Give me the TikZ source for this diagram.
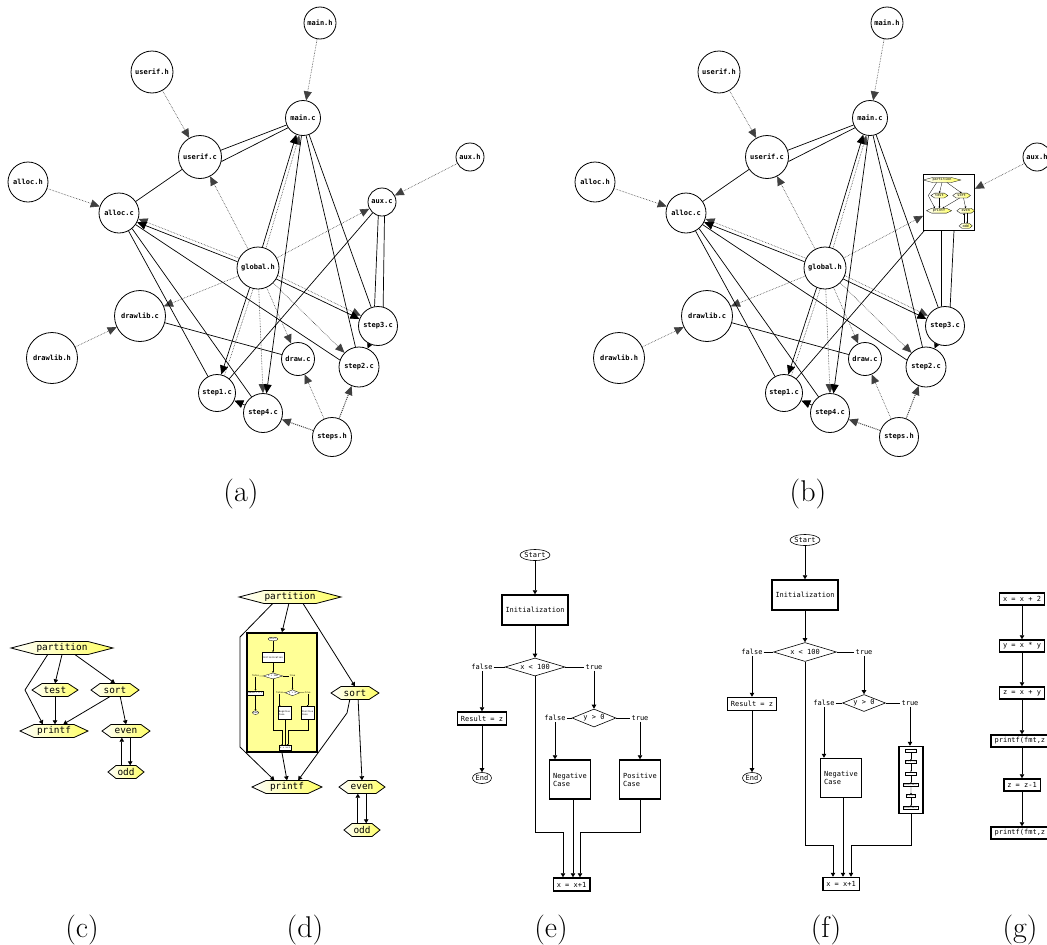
\documentclass[tikz,border=0pt]{standalone}
\usepackage{fontspec}
\newfontfamily\fcmono{DejaVu Sans Mono}
\usetikzlibrary{arrows.meta,shapes.geometric}

\definecolor{hexyellow}{RGB}{255,255,100}
\definecolor{boxyellow}{RGB}{255,255,150}

\tikzset{
  gnode/.style={circle, draw, line width=0.8pt, fill=white, inner sep=0pt,
    font=\fcmono\bfseries\fontsize{7}{8}\selectfont},
  gtip/.style={-{Triangle[length=9pt,width=8pt]}},
  dep/.style={densely dotted, draw=black!75, line width=0.6pt, gtip},
  depline/.style={densely dotted, draw=black!75, line width=0.6pt},
  call/.style={line width=0.7pt},
  callarr/.style={call, gtip},
  hexshape/.style={draw, line width=0.8pt, left color=white, right color=hexyellow},
  hexlabel/.style={inner sep=0pt, font=\fcmono\fontsize{9.4}{11}\selectfont},
  cline/.style={line width=0.8pt},
  carr/.style={cline, -{Triangle[length=4pt,width=4.5pt]}},
  fbox/.style={draw, line width=1.5pt, fill=white, inner xsep=3.5pt, inner ysep=1pt,
    font=\fcmono\fontsize{7}{8}\selectfont},
  fterm/.style={ellipse, draw, line width=0.6pt, fill=white, inner sep=0pt,
    minimum width=30, minimum height=11, font=\fcmono\fontsize{7}{8}\selectfont},
  fdec/.style={diamond, draw, line width=0.6pt, fill=white, inner sep=0pt,
    font=\fcmono\fontsize{7}{8}\selectfont},
  flab/.style={inner sep=1pt, font=\fcmono\fontsize{7}{8}\selectfont},
  fline/.style={line width=0.6pt},
  farr/.style={fline, -{Triangle[length=4pt,width=4.5pt]}},
  caption/.style={font=\fontsize{30}{36}\selectfont},
}

% hexagonal call-graph node: name, centre, half width, tip length, text
\newcommand\hexnode[5]{%
  \begin{scope}[shift={#2}]
    \path[hexshape] (-#3,0) -- (-#3+#4,-6.5) -- (#3-#4,-6.5) -- (#3,0)
      -- (#3-#4,6.5) -- (-#3+#4,6.5) -- cycle;
  \end{scope}
  \node[hexlabel, minimum width=2*#3, minimum height=13] (#1) at #2 {#5};
}

% call graph of partition/sort, drawn around the partition node
\newcommand\callgraph[1]{%
  \hexnode{#1-part}{(0,0)}{51}{25}{partition}
  \hexnode{#1-test}{(-7,42)}{23}{10}{test}
  \hexnode{#1-sort}{(53,42)}{24}{9}{sort}
  \hexnode{#1-printf}{(-8,83)}{34}{14}{printf}
  \hexnode{#1-even}{(64,83)}{24}{9}{even}
  \hexnode{#1-odd}{(64,124)}{18}{8}{odd}
  \coordinate (#1-bend) at (-37,42);
  \draw[carr] (#1-part.south) -- (#1-test.north);
  \draw[carr] (#1-part.-27) -- (#1-sort.north);
  \draw[carr] (#1-part.-155) -- (#1-bend) -- (#1-printf.149);
  \draw[carr] (#1-test.south) -- (#1-test.south |- #1-printf.north);
  \draw[carr] (#1-sort.-128) -- (#1-printf.36);
  \draw[carr] (#1-sort.-52) -- (#1-even.north);
  \draw[carr] (#1-even.-122 |- #1-odd.north) -- (#1-even.-122);
  \draw[carr] (#1-even.-58) -- (#1-even.-58 |- #1-odd.north);
}

% flowchart of the loop body, drawn relative to its Start node
\newcommand\flowchart[1]{%
  \node[fterm] (#1-start) at (0,0) {Start};
  \node[fbox, minimum width=66, minimum height=30] (#1-init) at (0,55) {Initialization};
  \node[fdec, minimum width=60, minimum height=18, shape aspect=3.3] (#1-d1) at (0,112) {x < 100};
  \node[flab] (#1-f1) at (-53,112) {false};
  \node[flab] (#1-t1) at (59,112) {true};
  \node[fbox, minimum height=13] (#1-res) at (-53,163.5) {Result = z};
  \node[fterm, minimum width=19] (#1-end) at (-53,223) {End};
  \node[fdec, minimum width=44, minimum height=18, shape aspect=2.4] (#1-d2) at (59,163) {y > 0};
  \node[flab] (#1-f2) at (20,163) {false};
  \node[flab] (#1-t2) at (105,163) {true};
  \node[fbox, minimum width=36, minimum height=39, align=left] (#1-neg) at (35,224.5) {Negative\\Case};
  \node[fbox, minimum width=36, minimum height=39, align=left] (#1-pos) at (105,224.5) {Positive\\Case};
  \node[fbox, minimum height=13] (#1-inc) at (36.5,329.5) {x = x+1};
  \coordinate (#1-j1) at (0,277);
  \coordinate (#1-j2) at (28,277);
  \coordinate (#1-nx) at (38,0);
  \coordinate (#1-j3) at (105,277);
  \coordinate (#1-j4) at (45,277);
  \draw[farr] (#1-start) -- (#1-init);
  \draw[farr] (#1-init) -- (#1-d1);
  \draw[fline] (#1-f1) -- (#1-d1);
  \draw[fline] (#1-d1) -- (#1-t1);
  \draw[farr] (#1-f1) -- (#1-res);
  \draw[farr] (#1-res) -- (#1-end);
  \draw[farr] (#1-t1) -- (#1-d2);
  \draw[fline] (#1-f2) -- (#1-d2);
  \draw[fline] (#1-d2) -- (#1-t2);
  \draw[farr] (#1-f2) -- (#1-f2 |- #1-neg.north);
  \draw[farr] (#1-t2) -- (#1-pos);
  \draw[farr] (#1-d1.south) -- (#1-j1) -- (#1-j2) -- (#1-j2 |- #1-inc.north);
  \draw[farr] (#1-nx |- #1-neg.south) -- (#1-nx |- #1-inc.north);
  \draw[farr] (#1-pos.south) -- (#1-j3) -- (#1-j4) -- (#1-j4 |- #1-inc.north);
}

% straight-line sequence of statements, centred on the origin;
% the wide printf boxes run on past the right-hand edge
\newcommand\seqchart[1]{%
  \node[fbox, minimum height=12] (#1-s1) at (0,-117) {x = x + 2};
  \node[fbox, minimum height=12] (#1-s2) at (0,-70) {y = x * y};
  \node[fbox, minimum height=12] (#1-s3) at (0,-23) {z = x + y};
  \node[fbox, minimum height=12] (#1-s4) at (0,25) {printf(fmt,z\phantom{)}};
  \node[fbox, minimum height=12] (#1-s5) at (0,69) {z = z-1};
  \node[fbox, minimum height=12] (#1-s6) at (0,117) {printf(fmt,z\phantom{)}};
  \draw[farr] (#1-s1) -- (#1-s2);
  \draw[farr] (#1-s2) -- (#1-s3);
  \draw[farr] (#1-s3) -- (#1-s4);
  \draw[farr] (#1-s4) -- (#1-s5);
  \draw[farr] (#1-s5) -- (#1-s6);
}

% file dependency graph: prefix, style of the aux.c node, its text
\newcommand\depgraph[3]{%
  \node[gnode, minimum size=32] (#1-mainh) at (320,23) {main.h};
  \node[gnode, minimum size=42] (#1-userifh) at (152,72) {userif.h};
  \node[gnode, minimum size=35] (#1-mainc) at (303,118) {main.c};
  \node[gnode, minimum size=43] (#1-userifc) at (200,157) {userif.c};
  \node[gnode, minimum size=40] (#1-alloch) at (28,182) {alloc.h};
  \node[gnode, minimum size=40] (#1-allocc) at (119,213) {alloc.c};
  \node[#2] (#1-auxc) at (382,202) {#3};
  \node[gnode, minimum size=28] (#1-auxh) at (470,157) {aux.h};
  \node[gnode, minimum size=42] (#1-globalh) at (258,268) {global.h};
  \node[gnode, minimum size=51] (#1-drawlibc) at (140,316) {drawlib.c};
  \node[gnode, minimum size=51] (#1-drawlibh) at (52,358) {drawlib.h};
  \node[gnode, minimum size=39] (#1-step3c) at (378,326) {step3.c};
  \node[gnode, minimum size=33] (#1-drawc) at (298,359) {draw.c};
  \node[gnode, minimum size=40] (#1-step2c) at (359,367) {step2.c};
  \node[gnode, minimum size=37] (#1-step1c) at (217,393) {step1.c};
  \node[gnode, minimum size=39] (#1-step4c) at (263,413) {step4.c};
  \node[gnode, minimum size=39] (#1-stepsh) at (332,437) {steps.h};
  % header inclusions
  \draw[dep] (#1-mainh) -- (#1-mainc);
  \draw[dep] (#1-userifh) -- (#1-userifc);
  \draw[dep] (#1-alloch) -- (#1-allocc);
  \draw[dep] (#1-auxh) -- (#1-auxc);
  \draw[dep] (#1-drawlibh) -- (#1-drawlibc);
  \draw[dep, line width=1pt] (#1-stepsh) -- (#1-step4c);
  \draw[dep] (#1-stepsh) -- (#1-drawc);
  \draw[dep, line width=1pt] (#1-stepsh) -- (#1-step2c);
  \draw[dep] (#1-globalh) -- (#1-userifc);
  \draw[dep] (#1-globalh.153) -- (#1-allocc.-17);
  \draw[callarr] (#1-globalh.163) -- (#1-allocc.-27);
  \draw[dep] (#1-globalh) -- (#1-auxc);
  \draw[dep] (#1-globalh) -- (#1-drawlibc);
  \draw[dep] (#1-globalh) -- (#1-drawc);
  \draw[dep] (#1-globalh) -- (#1-step2c);
  \draw[dep] (#1-globalh.-21) -- (#1-step3c.149);
  \draw[callarr] (#1-globalh.-31) -- (#1-step3c.159);
  \draw[dep] (#1-globalh.-88) -- (#1-step4c.90);
  \draw[dep] (#1-globalh.68) -- (#1-mainc.-102);
  \draw[callarr] (#1-globalh.78) -- (#1-mainc.-112);
  \draw[callarr] (#1-globalh.-113) -- (#1-step1c.77);
  \draw[depline] (#1-globalh.-103) -- (#1-step1c.67);
  % calls between modules
  \draw[call] (#1-mainc.203) -- (#1-userifc.18);
  \draw[call] (#1-mainc.213) -- (#1-userifc.-12);
  \draw[call] (#1-userifc) -- (#1-allocc);
  \draw[call] (#1-allocc.-62) -- (#1-step1c);
  \draw[call] (#1-allocc.-50) -- (#1-step4c);
  \draw[call] (#1-allocc.-35) -- (#1-step2c.160);
  \draw[call] (#1-mainc.-70) -- (#1-step3c.110);
  \draw[call] (#1-mainc.-80) -- (#1-step2c.100);
  \draw[callarr] (#1-mainc.-95) -- (#1-step4c.80);
  \draw[call] (#1-auxc) -- (#1-step1c);
  \draw[call] (#1-auxc.-105) -- (#1-step3c.100);
  \draw[call] (#1-auxc.-80) -- (#1-step3c.75);
  \draw[call] (#1-drawlibc) -- (#1-drawc);
  \draw[callarr] (#1-step4c) -- (#1-step1c);
  \draw[call, -{Triangle[length=5pt,width=5pt]}] (#1-step3c) -- (#1-step2c);
}

\begin{document}
\begin{tikzpicture}[x=1pt, y=-1pt]
\useasboundingbox (0,0) rectangle (1047,945);
\clip (0,0) rectangle (1047,945);
\fill[white] (0,0) rectangle (1047,945);

% (a) dependency graph
\depgraph{a}{gnode, minimum size=28}{aux.c}

% (b) the same graph with aux.c expanded into its call graph
\begin{scope}[shift={(567,0)}]
  \depgraph{b}{draw, line width=0.8pt, fill=white, minimum width=51, minimum height=56, inner sep=0pt}{}
\end{scope}
\begin{scope}[shift={(942,180)}, scale=0.37, transform shape,
    hexshape/.append style={line width=0.3pt},
    cline/.style={line width=0.3pt},
    carr/.style={cline, -{Triangle[length=1.6pt,width=1.8pt]}}]
  \callgraph{bm}
\end{scope}

% (c) call graph
\begin{scope}[shift={(62,648)}]
  \callgraph{c}
\end{scope}

% (d) call graph with test expanded into its flowchart
\hexnode{d-part}{(290,597)}{51}{25}{partition}
\node[draw, line width=1.6pt, fill=boxyellow, minimum width=70, minimum height=119, inner sep=0pt] (d-box) at (282,692.5) {};
\begin{scope}[shift={(273,639)}, scale=0.33, transform shape,
    fbox/.append style={line width=0.6pt},
    fterm/.append style={line width=0.3pt},
    fdec/.append style={line width=0.3pt},
    fline/.style={line width=0.3pt},
    farr/.style={fline, -{Triangle[length=1.5pt,width=1.6pt]}}]
  \flowchart{dm}
\end{scope}
\hexnode{d-sort}{(355,693)}{24}{10}{sort}
\hexnode{d-printf}{(287,787)}{35}{14}{printf}
\hexnode{d-even}{(362,787)}{23}{9}{even}
\hexnode{d-odd}{(362,830)}{18}{8}{odd}
\coordinate (d-b1) at (240,637);
\coordinate (d-b2) at (240,747);
\coordinate (d-b3) at (347,713);
\draw[carr] (d-part.-100) -- (d-box.north);
\draw[carr] (d-part.-159) -- (d-b1) -- (d-b2) -- (d-printf.152);
\draw[carr] (d-part.-27) -- (d-sort.north);
\draw[carr] (d-box.south) -- (d-printf.north);
\draw[carr] (d-sort.-128) -- (d-b3) -- (d-printf.31);
\draw[carr] (d-sort.-65) -- (d-even.north);
\draw[carr] (d-even.-122 |- d-odd.north) -- (d-even.-122);
\draw[carr] (d-even.-58) -- (d-even.-58 |- d-odd.north);

% (e) flowchart
\begin{scope}[shift={(535,555)}]
  \flowchart{e}
\end{scope}

% (f) flowchart with the positive case expanded
\node[fterm] (f-start) at (805,540) {Start};
\node[fbox, minimum width=65, minimum height=30] (f-init) at (805,595) {Initialization};
\node[fdec, minimum width=63, minimum height=19, shape aspect=3.3] (f-d1) at (805,652) {x < 100};
\node[flab] (f-f1) at (752,652) {false};
\node[flab] (f-t1) at (864,652) {true};
\node[fbox, minimum height=13] (f-res) at (752,704) {Result = z};
\node[fterm, minimum width=19] (f-end) at (752,778) {End};
\node[fdec, minimum width=43, minimum height=17, shape aspect=2.5] (f-d2) at (864,703) {y > 0};
\node[flab] (f-f2) at (824,703) {false};
\node[flab] (f-t2) at (910,703) {true};
\node[fbox, minimum width=36, minimum height=39, align=left] (f-neg) at (841,778) {Negative\\Case};
\node[fbox, minimum width=24, minimum height=67, inner sep=0pt] (f-seq) at (911,780) {};
\begin{scope}[shift={(911,779)}, scale=0.245, transform shape,
    fbox/.append style={line width=0.5pt},
    fline/.style={line width=0.3pt},
    farr/.style={fline, -{Triangle[length=1.2pt,width=1.4pt]}}]
  \seqchart{fm}
\end{scope}
\node[fbox, minimum height=13] (f-inc) at (841,884) {x = x+1};
\coordinate (f-j1) at (805,845);
\coordinate (f-j2) at (833,845);
\coordinate (f-nx) at (843,0);
\coordinate (f-j3) at (911,845);
\coordinate (f-j4) at (851,845);
\draw[farr] (f-start) -- (f-init);
\draw[farr] (f-init) -- (f-d1);
\draw[fline] (f-f1) -- (f-d1);
\draw[fline] (f-d1) -- (f-t1);
\draw[farr] (f-f1) -- (f-res);
\draw[farr] (f-res) -- (f-end);
\draw[farr] (f-t1) -- (f-d2);
\draw[fline] (f-f2) -- (f-d2);
\draw[fline] (f-d2) -- (f-t2);
\draw[farr] (f-f2) -- (f-f2 |- f-neg.north);
\draw[farr] (f-t2) -- (f-t2 |- f-seq.north);
\draw[farr] (f-d1.south) -- (f-j1) -- (f-j2) -- (f-j2 |- f-inc.north);
\draw[farr] (f-nx |- f-neg.south) -- (f-nx |- f-inc.north);
\draw[farr] (f-seq.south) -- (f-j3) -- (f-j4) -- (f-j4 |- f-inc.north);

% (g) statement sequence
\begin{scope}[shift={(1022,716)}]
  \seqchart{g}
\end{scope}

% captions
\node[caption] (cap-a) at (241,494) {(a)};
\node[caption] (cap-b) at (808,494) {(b)};
\node[caption] (cap-c) at (82,930) {(c)};
\node[caption] (cap-d) at (305,930) {(d)};
\node[caption] (cap-e) at (551,930) {(e)};
\node[caption] (cap-f) at (826,930) {(f)};
\node[caption] (cap-g) at (1020,930) {(g)};
\end{tikzpicture}
\end{document}
